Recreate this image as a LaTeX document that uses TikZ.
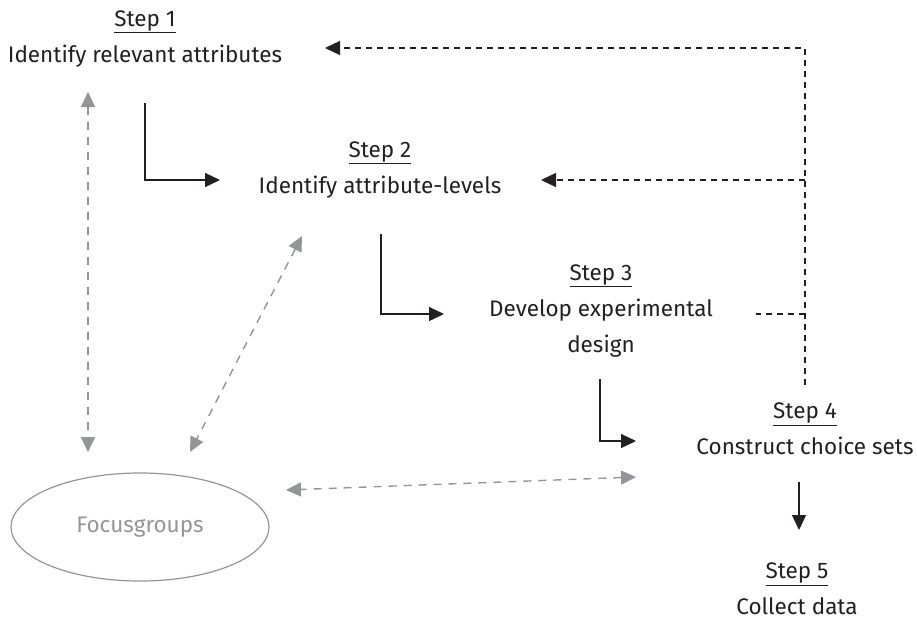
\documentclass[tikz,border=0pt]{standalone}
\usepackage{fontspec}
\setmainfont{Fira Sans}
\usetikzlibrary{arrows.meta,shapes.geometric}
\definecolor{ink}{HTML}{231F20}
\definecolor{fog}{HTML}{939598}
\begin{document}
\begin{tikzpicture}[x=1pt,y=-1pt,
  steptext/.style={align=center,inner sep=0pt,text=ink,
    font=\fontsize{22.5}{36}\selectfont},
  flow/.style={draw=ink,line width=1.4pt,-{Triangle[length=15pt,width=14pt]}},
  feedback/.style={draw=ink,line width=1.4pt,dash pattern=on 6pt off 5pt},
  feedtip/.style={feedback,-{Triangle[length=15pt,width=14pt]}},
  consult/.style={draw=fog,line width=1.4pt,dash pattern=on 8pt off 7pt,
    {Triangle[length=15pt,width=14pt]}-{Triangle[length=15pt,width=14pt]}}]
\useasboundingbox (0,0) rectangle (917,619);

% process steps
\node[steptext] (s1) at (145,39)  {\underline{Step 1}\\Identify relevant attributes};
\node[steptext] (s2) at (380,170) {\underline{Step 2}\\Identify attribute-levels};
\node[steptext] (s3) at (601,311) {\underline{Step 3}\\Develop experimental\\design};
\node[steptext] (s4) at (805,429) {\underline{Step 4}\\Construct choice sets};
\node[steptext] (s5) at (797,589) {\underline{Step 5}\\Collect data};

% focus groups
\node[draw=fog,line width=1.2pt,ellipse,minimum width=258pt,minimum height=108pt,
  inner sep=0pt,text=fog,font=\fontsize{22.5}{26}\selectfont] (fg) at (140,527) {Focusgroups};

% forward flow
\coordinate (a1) at (145,103); \coordinate (b1) at (220,180);
\coordinate (a2) at (381,234); \coordinate (b2) at (444,314);
\coordinate (a3) at (600,379); \coordinate (b3) at (636,441);
\coordinate (a4) at (799,482); \coordinate (b4) at (799,530);
\draw[flow] (a1) |- (b1);
\draw[flow] (a2) |- (b2);
\draw[flow] (a3) |- (b3);
\draw[flow] (a4) -- (b4);

% feedback loop
\coordinate (r0) at (805,385);
\coordinate (r1) at (805,48);  \coordinate (t1) at (325,48);
\coordinate (r2) at (805,180); \coordinate (t2) at (541,180);
\coordinate (r3) at (805,314); \coordinate (t3) at (756,314);
\draw[feedtip] (r0) -- (r1) -- (t1);
\draw[feedtip] (r2) -- (t2);
\draw[feedback] (r3) -- (t3);

% consultation with focus groups
\coordinate (c1a) at (88,92);  \coordinate (c1b) at (88,452);
\coordinate (c2a) at (302,236); \coordinate (c2b) at (190,452);
\coordinate (c3a) at (636,477); \coordinate (c3b) at (286,490);
\draw[consult] (c1a) -- (c1b);
\draw[consult] (c2a) -- (c2b);
\draw[consult] (c3a) -- (c3b);
\end{tikzpicture}
\end{document}
